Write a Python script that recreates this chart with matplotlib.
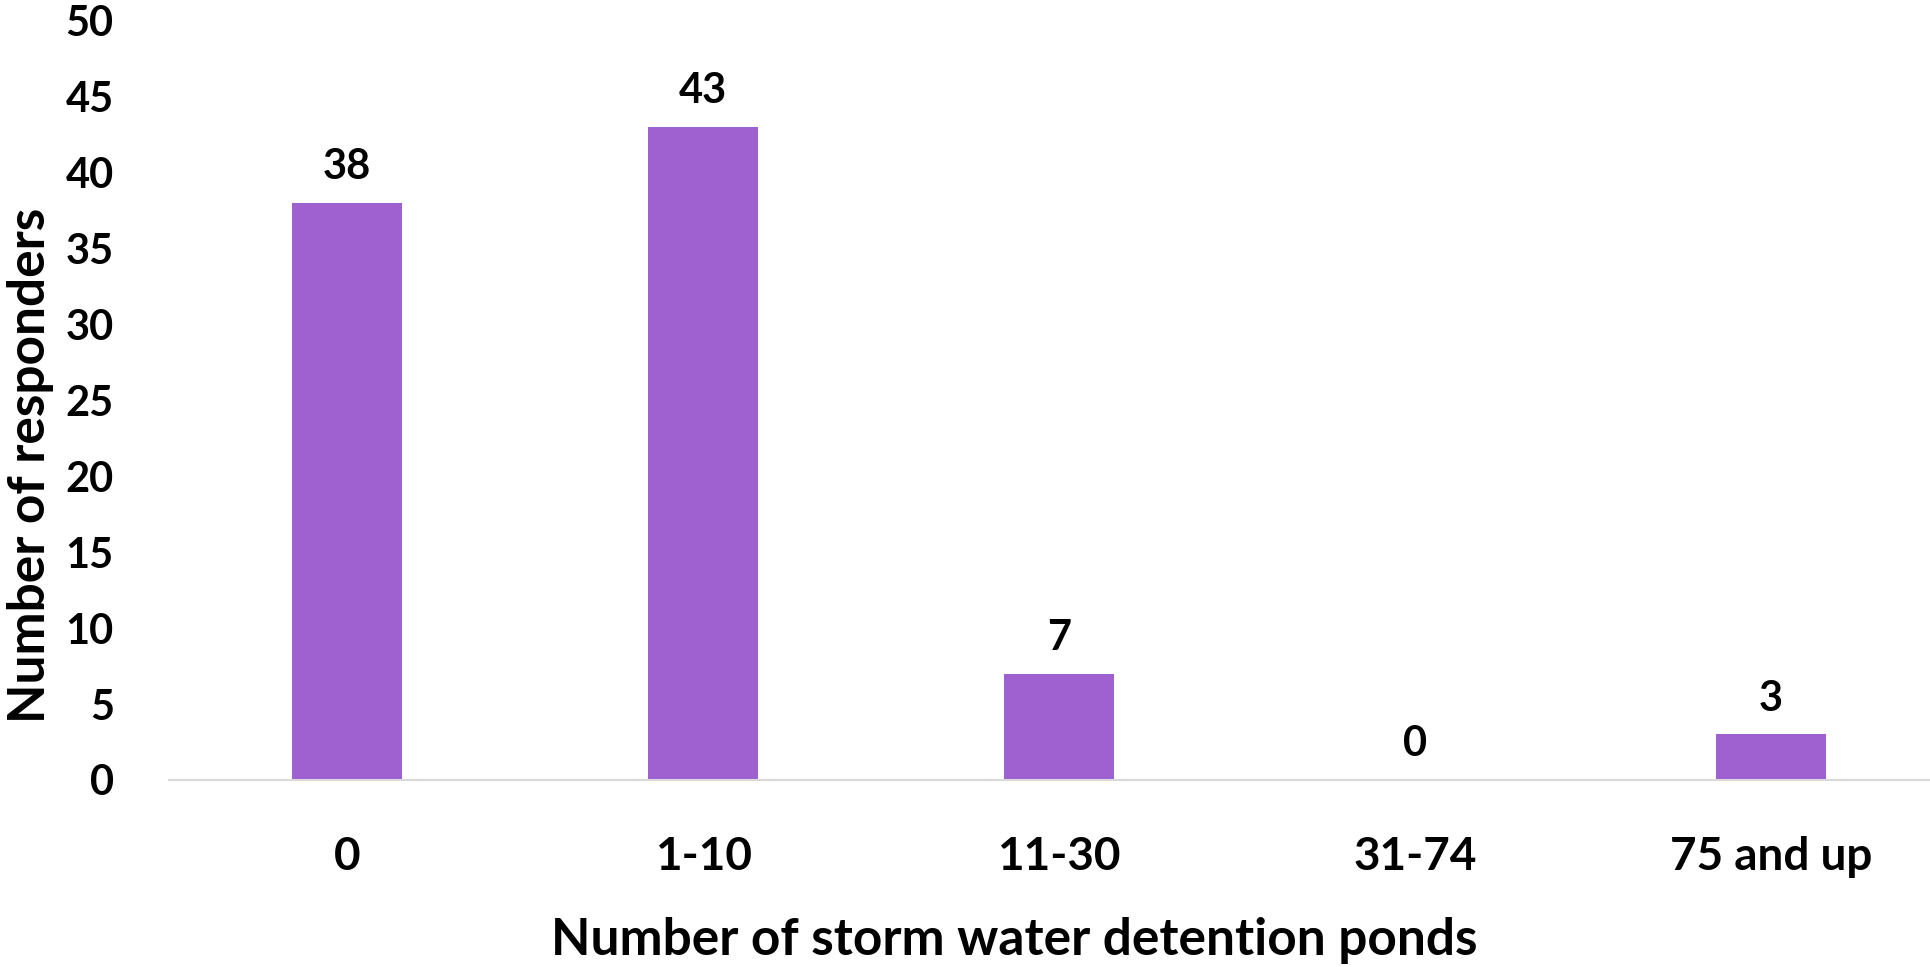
import matplotlib.pyplot as plt

# data
categories = ["0", "1-10", "11-30", "31-74", "75 and up"]
responders = [38, 43, 7, 0, 3]
yticks = [0, 5, 10, 15, 20, 25, 30, 35, 40, 45, 50]

plt.rcParams['font.family'] = ['Lato', 'DejaVu Sans']
plt.rcParams['font.weight'] = 'bold'

fig = plt.figure(figsize=(19.31, 9.67), dpi=100)
ax = fig.add_axes([0.0877, 0.1934, 0.9215, 0.785])

x = range(len(categories))
bars = ax.bar(x, responders, width=0.31, color="#9E61CF", zorder=2)

for b, v in zip(bars, responders):
    ax.annotate(str(v), (b.get_x() + b.get_width() / 2, v), xytext=(0, 12),
                textcoords="offset points", ha="center", va="bottom",
                fontsize=30, fontweight="bold")

ax.set_xlim(-0.5, len(categories) - 0.5)
ax.set_ylim(0, 50)
ax.set_yticks(yticks)
ax.set_xticks(list(x))
ax.set_xticklabels(categories)
ax.tick_params(axis="both", length=0, labelsize=30)
ax.tick_params(axis="x", labelsize=33, pad=40)
ax.tick_params(axis="y", pad=40)

for s in ["top", "right", "left"]:
    ax.spines[s].set_visible(False)
ax.spines["bottom"].set_color("#D9D9D9")
ax.spines["bottom"].set_linewidth(1.5)

ax.set_xlabel("Number of storm water detention ponds", fontsize=37, fontweight="bold",
              va="center")
ax.xaxis.set_label_coords(0.475, -0.211)
ax.set_ylabel("Number of responders", fontsize=37, fontweight="bold", labelpad=0)
ax.yaxis.set_label_coords(-0.065, 0.415)

fig.savefig("out.png", dpi=100)
